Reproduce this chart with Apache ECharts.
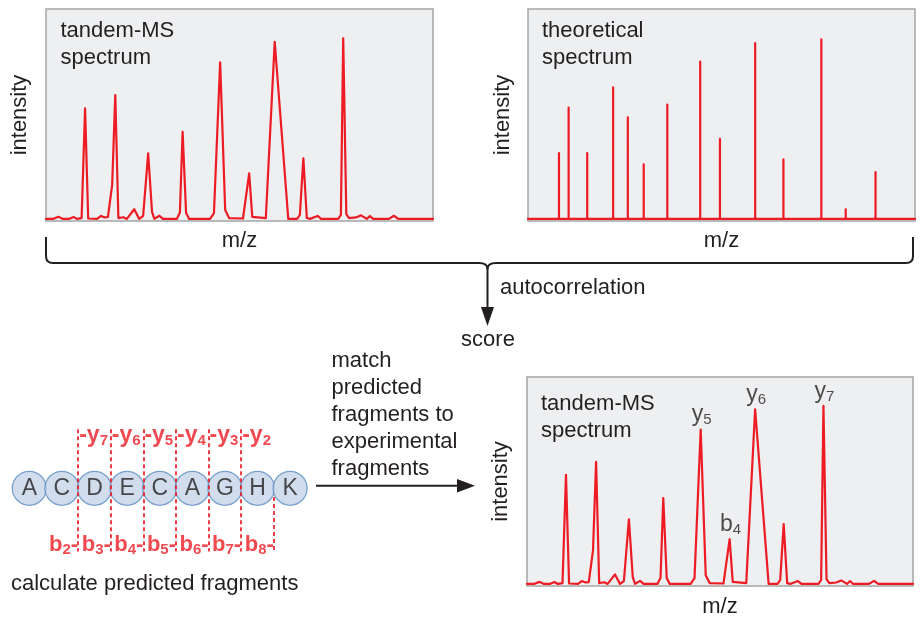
<!DOCTYPE html>
<html><head><meta charset="utf-8">
<script src="https://cdn.jsdelivr.net/npm/echarts@6/dist/echarts.min.js"></script>
<style>html,body{margin:0;padding:0;background:#fff}#c{width:922px;height:619px}</style>
</head><body><div id="c"></div>
<script>
// ---- data ----
const specMz = [0,1.8,3.2,4.4,5.9,7.1,8.0,9.2,10.1,10.9,13.2,14.2,15.2,16.0,17.1,17.9,18.7,20.0,20.9,22.8,24.1,25.1,26.4,27.4,28.0,29.3,30.2,33.8,34.6,35.3,36.2,37.0,42.4,43.4,45.0,46.3,47.3,50.9,51.4,52.5,53.3,56.8,59.1,62.6,64.9,65.6,66.5,67.4,68.2,70.2,71.1,75.5,76.2,76.8,77.6,78.3,80.1,81.4,82.9,83.7,84.5,88.6,89.9,91.0,100];
const specInt = [0,0,1.0,0,0,0.9,0,0.4,52.7,0.2,0,1.4,0.7,0.9,16.2,59.0,0.4,0.8,0,4.6,0,1.4,31.2,3.3,0,1.5,0,0,3.0,41.5,2.8,0,0,2.8,74.6,4.2,0.4,0.2,1.0,21.7,1.0,0.4,84.4,0,0,1.9,28.9,0.4,0,1.4,0,0,1.9,86.0,2.3,0.4,0.7,1.7,0,1.4,0,0,1.5,0,0];
const theoMz = [8.0,10.5,15.3,22.0,25.8,29.9,36.0,44.5,49.6,58.7,66.0,75.8,82.1,89.8];
const theoInt = [31.3,53.0,31.3,62.7,48.4,26.0,54.4,74.9,38.1,83.7,28.4,85.6,4.6,22.3];
const residues = ['A','C','D','E','C','A','G','H','K'];
const yIonNums = ['7','6','5','4','3','2'];
const bIonNums = ['2','3','4','5','6','7','8'];
const peakLabelMz = [45.0, 52.5, 59.1, 76.8];
const peakLabelIon = ['y','b','y','y'];
const peakLabelNum = ['5','4','6','7'];

// ---- style / layout ----
const RED = '#ed1c24', INK = '#231f20', FONT = '"Liberation Sans", Arial, Helvetica, sans-serif';
const BOX = {show:true, backgroundColor:'#eeeff1', borderColor:'#a5a5a5', borderWidth:1.5};
const L = {lineTop:9.3, lineBottom:131.5, lowerTop:77, pepY:68.3, yLabY:16, bLabY:125.5};

const spectrum = specMz.map((x,i)=>[x, specInt[i]]);
const theo = [[0,0]];
theoMz.forEach((x,i)=>{ theo.push([x,0],[x,theoInt[i]],[x,0]); });
theo.push([100,0]);

function xAx(gi, gap){
  return {type:'value', gridIndex:gi, min:0, max:100, axisLine:{show:false}, axisTick:{show:false},
    axisLabel:{show:false}, splitLine:{show:false}, name:'m/z', nameLocation:'middle', nameGap:gap,
    nameTextStyle:{fontSize:22, color:INK, fontFamily:FONT}};
}
function yAx(gi, gap){
  return {type:'value', gridIndex:gi, min:-1, max:100, axisLine:{show:false}, axisTick:{show:false},
    axisLabel:{show:false}, splitLine:{show:false}, name:'intensity', nameLocation:'middle', nameGap:gap, nameRotate:90,
    nameTextStyle:{fontSize:22, color:INK, fontFamily:FONT}};
}
const subRich = (bold, size, sub, pad, color) => ({
  t:{color, fontSize:size, fontWeight:bold?'bold':'normal', fontFamily:FONT, lineHeight:size+1, verticalAlign:'top', padding:[0,0,pad,0]},
  s:{color, fontSize:sub, fontWeight:bold?'bold':'normal', fontFamily:FONT, lineHeight:sub, verticalAlign:'bottom'}
});

const dashed = [];
yIonNums.forEach((n,i)=>{ const b=i+1.5; dashed.push({coords:[[b,L.lineTop],[b,L.lineBottom]]}); });
dashed.push({coords:[[bIonNums.length+0.5, L.lowerTop],[bIonNums.length+0.5, L.lineBottom]]});

const titleStyle = {fontSize:22, fontWeight:'normal', color:INK, fontFamily:FONT, lineHeight:27};
const txt = (text, x, y, extra) => ({type:'text', silent:true, style:Object.assign({text, x, y, fill:INK, font:'22px '+FONT, textVerticalAlign:'middle'}, extra||{})});
const ln = (x1,y1,x2,y2) => ({type:'line', silent:true, shape:{x1,y1,x2,y2}, style:{stroke:INK, lineWidth:2}});
const bz = (x1,y1,cx,cy,x2,y2) => ({type:'bezierCurve', silent:true, shape:{x1,y1,cpx1:cx,cpy1:cy,x2,y2}, style:{stroke:INK, lineWidth:2, fill:null}});
const specLine = {color:RED, width:2.2, join:'round', cap:'round'};

const option = {
  animation:false,
  backgroundColor:'#ffffff',
  title:[
    {text:'tandem-MS\nspectrum', left:60.5, top:17, padding:0, textStyle:titleStyle},
    {text:'theoretical\nspectrum', left:542, top:17.5, padding:0, textStyle:titleStyle},
    {text:'tandem-MS\nspectrum', left:541, top:390, padding:0, textStyle:titleStyle}
  ],
  grid:[
    Object.assign({left:46, top:9, width:387, height:212}, BOX),
    Object.assign({left:528, top:9, width:387, height:212}, BOX),
    Object.assign({left:527, top:377, width:386, height:214}, BOX),
    {left:13, top:420, width:293.4, height:140, show:false}
  ],
  xAxis:[ xAx(0,9), xAx(1,9), xAx(2,10),
    {type:'value', gridIndex:3, min:-0.5, max:8.5, show:false} ],
  yAxis:[ yAx(0,15), yAx(1,14), yAx(2,15),
    {type:'value', gridIndex:3, min:0, max:140, inverse:true, show:false} ],
  series:[
    {type:'line', xAxisIndex:0, yAxisIndex:0, data:spectrum, showSymbol:false, silent:true, lineStyle:specLine, itemStyle:{color:RED}},
    {type:'line', xAxisIndex:1, yAxisIndex:1, data:theo, showSymbol:false, silent:true, lineStyle:specLine, itemStyle:{color:RED}},
    {type:'line', xAxisIndex:2, yAxisIndex:2, data:spectrum, showSymbol:false, silent:true, lineStyle:specLine, itemStyle:{color:RED}},
    {type:'scatter', xAxisIndex:2, yAxisIndex:2, symbolSize:0, silent:true,
      data: peakLabelMz.map((x,i)=>({value:[x, specInt[specMz.indexOf(x)]], ion:peakLabelIon[i], num:peakLabelNum[i]})),
      label:{show:true, position:'top', distance:2, offset:[1,0], color:INK,
        formatter:p=>'{t|'+p.data.ion+'}{s|'+p.data.num+'}', rich:subRich(false,23,15,3,INK)}},
    {type:'scatter', xAxisIndex:3, yAxisIndex:3, symbol:'circle', symbolSize:34, silent:true, z:2,
      itemStyle:{color:'#c5d4e8', borderColor:'#5f8dc0', borderWidth:1.3},
      data: residues.map((r,i)=>({name:r, value:[i, L.pepY]})),
      label:{show:true, position:'inside', formatter:'{b}', fontSize:23, color:INK, fontFamily:FONT}},
    {type:'lines', coordinateSystem:'cartesian2d', xAxisIndex:3, yAxisIndex:3, silent:true, z:5,
      lineStyle:{color:RED, width:1.7, type:[4,3], opacity:1}, data:dashed},
    {type:'scatter', xAxisIndex:3, yAxisIndex:3, symbolSize:0, silent:true, z:6,
      data: yIonNums.map((n,i)=>({value:[i+1.5, L.yLabY], num:n})),
      label:{show:true, position:'right', distance:1, color:RED,
        formatter:p=>'{t|-y}{s|'+p.data.num+'}', rich:subRich(true,23,15,3,RED)}},
    {type:'scatter', xAxisIndex:3, yAxisIndex:3, symbolSize:0, silent:true, z:6,
      data: bIonNums.map((n,i)=>({value:[i+1.5, L.bLabY], num:n})),
      label:{show:true, position:'left', distance:0, color:RED,
        formatter:p=>'{t|b}{s|'+p.data.num+'}{t|-}', rich:subRich(true,22,15,5,RED)}}
  ],
  graphic:[
    ln(46,237,46,256), bz(46,256,46,263,53,263), ln(53,263,479,263),
    bz(479,263,487.5,263,487.5,269), bz(496,263,487.5,263,487.5,269),
    ln(496,263,906,263), bz(906,263,913,263,913,256), ln(913,256,913,237),
    ln(487.5,268,487.5,310),
    {type:'polygon', silent:true, shape:{points:[[481,307],[494,307],[487.5,326]]}, style:{fill:INK}},
    ln(316,485.7,460,485.7),
    {type:'polygon', silent:true, shape:{points:[[457,479],[457,492.4],[475,485.7]]}, style:{fill:INK}},
    txt('autocorrelation', 500, 287.7),
    txt('score', 488, 340, {textAlign:'center'}),
    txt('match\npredicted\nfragments to\nexperimental\nfragments', 331.5, 347.5, {textVerticalAlign:'top', lineHeight:27}),
    txt('calculate predicted fragments', 11, 584.4)
  ]
};
const chart = echarts.init(document.getElementById('c'), null, {renderer:'canvas'});
chart.setOption(option);
</script>
</body></html>
